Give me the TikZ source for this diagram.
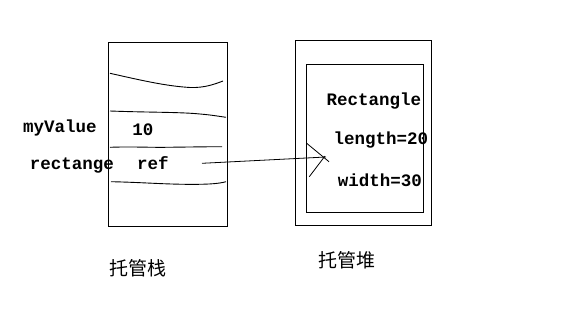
\documentclass[tikz,border=0pt]{standalone}
\usepackage{fontspec}
\newfontfamily\monof{Liberation Mono}
\newfontfamily\cjk{Noto Sans CJK SC}
\begin{document}
\begin{tikzpicture}[x=1pt,y=-1pt,
  box/.style={draw,line width=0.9pt,inner sep=0pt},
  wave/.style={line width=0.9pt},
  lbl/.style={inner sep=0pt,font=\monof\bfseries\fontsize{17.5}{20}\selectfont},
  cn/.style={inner sep=0pt,font=\cjk\fontsize{19}{22}\selectfont}]
\useasboundingbox (0,0) rectangle (568,316);
% boxes
\node[box,minimum width=119pt,minimum height=184pt] (stack) at (167.5,134) {};
\node[box,minimum width=136pt,minimum height=185pt] (heap) at (363,132.5) {};
\node[box,minimum width=117pt,minimum height=148pt] (obj) at (364.5,138) {};
% wavy separators
\draw[wave] (110,73.3) .. controls (140,80) and (165,86) .. (190,87.5) .. controls (205,88) and (215,84) .. (223,81);
\draw[wave] (110,111) .. controls (150,112.5) and (180,112) .. (200,114) .. controls (212,115) and (220,116.5) .. (226,117.3);
\draw[wave] (110,147.3) .. controls (130,146.5) and (150,147.5) .. (165,147.3) .. controls (190,147) and (210,146.7) .. (222,146.7);
\draw[wave] (111,181.7) .. controls (140,182.3) and (160,184) .. (185,184.3) .. controls (205,184.5) and (218,184) .. (226,181.7);
% texts
\node[lbl] (myvalue) at (60,128) {myValue};
\node[lbl] (ten) at (143,130) {10};
\node[lbl] (rectange) at (72,166) {rectange};
\node[lbl] (ref) at (153,163) {ref};
\node[lbl] (rectangle) at (374,101) {Rectangle};
\node[lbl] (length) at (381,140) {length=20};
\node[lbl] (width) at (380,180) {width=30};
\node[cn] (stacklbl) at (138,268) {托管栈};
\node[cn] (heaplbl) at (347,260) {托管堆};
% reference arrow
\coordinate (refend) at (202,163.3);
\coordinate (tip) at (326,157);
\draw[line width=0.8pt] (refend) -- (tip);
\draw[line width=0.8pt] (tip) ++(-19.3,-13.7) -- ++(22.3,18.4);
\draw[line width=0.8pt] (tip) ++(-16.7,19.7) -- ++(15.7,-20.7);
\end{tikzpicture}
\end{document}
